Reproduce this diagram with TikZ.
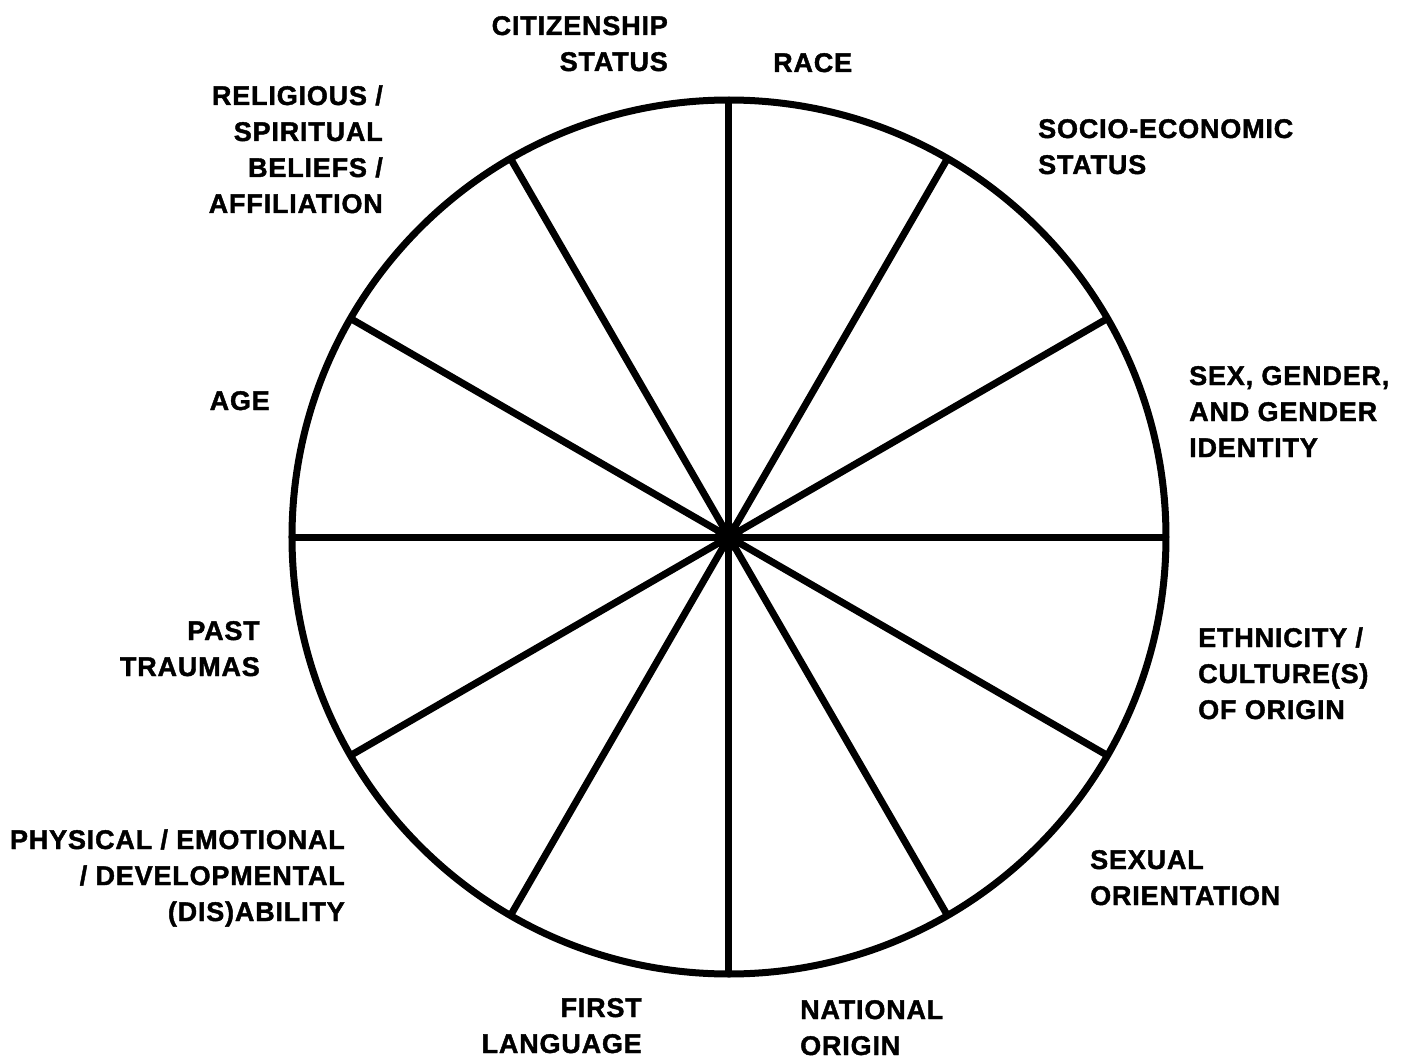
\documentclass[tikz,border=0pt]{standalone}
\usepackage{fontspec}
\newfontfamily\wheelfont{Liberation Sans Bold}[LetterSpace=3,FakeBold=1.5]
\usetikzlibrary{positioning}

\begin{document}
\begin{tikzpicture}[x=1pt,y=1pt,
  wheel/.style={draw,circle,line width=7pt,minimum size=874pt,inner sep=0pt,outer sep=0pt},
  spoke/.style={line width=7pt},
  lbl/.style={font=\wheelfont\fontsize{27}{36}\selectfont,inner sep=0pt},
  lblL/.style={lbl,align=left,anchor=base west},
  lblR/.style={lbl,align=right,anchor=base east}]
\useasboundingbox (-729,-524) rectangle (677,537);
\node[wheel] (wheel) at (0,0) {};
\foreach \a in {0,30,...,150}
  \draw[spoke] (wheel.\a) -- (wheel.\a+180);
\fill (wheel.center) circle (14pt);
% labels round the wheel (placed at the baseline of their last line)
\node[lblR] (citizen) at (-61,466) {CITIZENSHIP\\STATUS};
\node[lblL] (race) at (44,465) {RACE};
\node[lblR] (relig) at (-346,324) {RELIGIOUS /\\SPIRITUAL\\BELIEFS /\\AFFILIATION};
\node[lblL] (socio) at (309,363) {SOCIO-ECONOMIC\\STATUS};
\node[lblR] (age) at (-459,127) {AGE};
\node[lblL] (sex) at (460,80) {SEX, GENDER,\\AND GENDER\\IDENTITY};
\node[lblR] (trauma) at (-469,-139) {PAST\\TRAUMAS};
\node[lblL] (ethnic) at (469,-182) {ETHNICITY /\\CULTURE(S)\\OF ORIGIN};
\node[lblR] (ability) at (-384,-384) {PHYSICAL / EMOTIONAL\\/ DEVELOPMENTAL\\(DIS)ABILITY};
\node[lblL] (orient) at (361,-368) {SEXUAL\\ORIENTATION};
\node[lblR] (lang) at (-87,-516) {FIRST\\LANGUAGE};
\node[lblL] (nation) at (71,-518) {NATIONAL\\ORIGIN};
\end{tikzpicture}
\end{document}
